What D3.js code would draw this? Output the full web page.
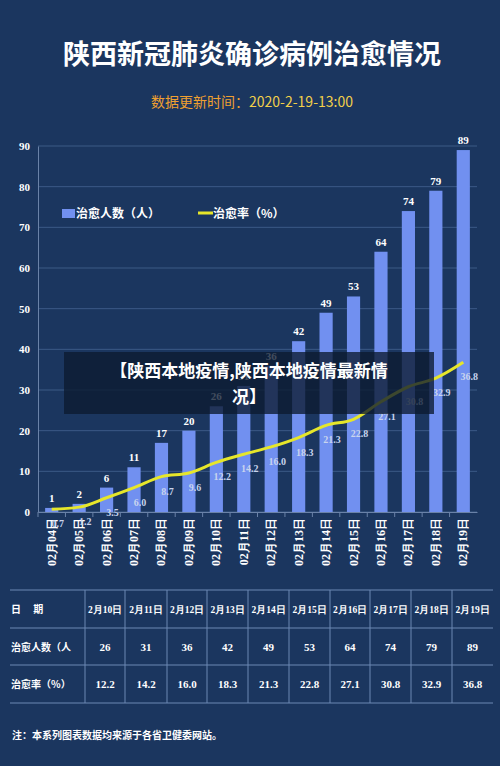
<!DOCTYPE html>
<html><head><meta charset="utf-8">
<script src="https://cdn.jsdelivr.net/npm/d3@7"></script>
<style>body{margin:0;background:#1b365f;}svg{display:block;}</style>
</head><body>
<div id="chart"></div>
<script>
var dates = ["02月04日","02月05日","02月06日","02月07日","02月08日","02月09日","02月10日","02月11日","02月12日","02月13日","02月14日","02月15日","02月16日","02月17日","02月18日","02月19日"];
var cured = [1,2,6,11,17,20,26,31,36,42,49,53,64,74,79,89];
var rate = [0.7,1.2,3.5,6.0,8.7,9.6,12.2,14.2,16.0,18.3,21.3,22.8,27.1,30.8,32.9,36.8];
var yTicks = [0,10,20,30,40,50,60,70,80,90];
var tableDates = ["2月10日","2月11日","2月12日","2月13日","2月14日","2月15日","2月16日","2月17日","2月18日","2月19日"];

var W = 500, H = 766;
var svg = d3.select("#chart").append("svg").attr("width", W).attr("height", H);
svg.append("rect").attr("width", W).attr("height", H).attr("fill", "#1b365f");

var serif = "'Liberation Serif', serif";
var sans = "'Noto Sans CJK SC', sans-serif";

// title
svg.append("text").attr("x", 252).attr("y", 64).attr("text-anchor", "middle")
  .attr("font-family", sans).attr("font-weight", "bold").attr("font-size", 27)
  .attr("fill", "#fff").text("陕西新冠肺炎确诊病例治愈情况");
var sub = svg.append("text").attr("x", 252).attr("y", 107).attr("text-anchor", "middle")
  .attr("font-family", sans).attr("font-size", 14);
sub.append("tspan").attr("fill", "#f0a030").text("数据更新时间：");
sub.append("tspan").attr("fill", "#f2d04a").text("2020-2-19-13:00");

var x = d3.scaleBand().domain(dates).range([38, 477]).paddingInner(0.52).paddingOuter(0.26);
var y = d3.scaleLinear().domain([0, 90]).range([512, 146]);

// grid
svg.append("g").selectAll("line").data(yTicks).enter().append("line")
  .attr("x1", 38).attr("x2", 477).attr("y1", d => y(d)).attr("y2", d => y(d))
  .attr("stroke", "#3c5a86").attr("stroke-width", 1);

var yAxis = svg.append("g").attr("transform", "translate(38,0)")
  .call(d3.axisLeft(y).tickValues(yTicks).tickSize(0).tickPadding(8));
yAxis.select(".domain").attr("stroke", "#6a82a8");
yAxis.selectAll("text").attr("fill", "#fff").attr("font-family", serif)
  .attr("font-weight", "bold").attr("font-size", 11);

var xAxis = svg.append("g").attr("transform", "translate(0,512)")
  .call(d3.axisBottom(x).tickSize(0).tickFormat(""));
xAxis.select(".domain").attr("stroke", "#6a82a8");
// rotated date labels below the axis, reading upward
svg.append("g").selectAll("text").data(dates).enter().append("text")
  .attr("transform", d => "translate(" + (x(d) + x.bandwidth() / 2 + 4) + ",518) rotate(-90)")
  .attr("text-anchor", "end").attr("fill", "#fff").attr("font-family", serif)
  .attr("font-weight", "bold").attr("font-size", 12).text(d => d);
// boundary ticks
svg.append("g").selectAll("line").data(dates).enter().append("line")
  .attr("x1", d => x(d) - x.step() * x.paddingInner() / 2)
  .attr("x2", d => x(d) - x.step() * x.paddingInner() / 2)
  .attr("y1", 512).attr("y2", 517).attr("stroke", "#6a82a8");

// bars
svg.append("g").selectAll("rect").data(cured).enter().append("rect")
  .attr("x", (d, i) => x(dates[i])).attr("width", x.bandwidth())
  .attr("y", d => y(d)).attr("height", d => 512 - y(d)).attr("fill", "#7190f0");
svg.append("g").selectAll("text").data(cured).enter().append("text")
  .attr("x", (d, i) => x(dates[i]) + x.bandwidth() / 2).attr("y", d => y(d) - 6)
  .attr("text-anchor", "middle").attr("fill", "#fff").attr("font-family", serif)
  .attr("font-weight", "bold").attr("font-size", 11).text(d => d);

// line
var line = d3.line().x((d, i) => x(dates[i]) + x.bandwidth() / 2).y(d => y(d)).curve(d3.curveMonotoneX);
svg.append("path").datum(rate).attr("d", line).attr("fill", "none")
  .attr("stroke", "#e6e62a").attr("stroke-width", 3);
svg.append("g").selectAll("text").data(rate).enter().append("text")
  .attr("x", (d, i) => x(dates[i]) + x.bandwidth() / 2 + 6).attr("y", d => y(d) + 18)
  .attr("text-anchor", "middle").attr("fill", "#c8d4ee").attr("font-family", serif)
  .attr("font-weight", "bold").attr("font-size", 10).text(d => d.toFixed(1));

// legend
svg.append("rect").attr("x", 62).attr("y", 209).attr("width", 13).attr("height", 9).attr("fill", "#7190f0");
svg.append("text").attr("x", 76).attr("y", 218).attr("fill", "#fff").attr("font-family", sans)
  .attr("font-weight", "bold").attr("font-size", 12).text("治愈人数（人）");
svg.append("line").attr("x1", 198).attr("x2", 213).attr("y1", 213).attr("y2", 213)
  .attr("stroke", "#e6e62a").attr("stroke-width", 3);
svg.append("text").attr("x", 213).attr("y", 218).attr("fill", "#fff").attr("font-family", sans)
  .attr("font-weight", "bold").attr("font-size", 12).text("治愈率（%）");

// overlay caption
svg.append("rect").attr("x", 64).attr("y", 352).attr("width", 370).attr("height", 62)
  .attr("fill", "#0c1a30").attr("opacity", 0.78);
svg.append("text").attr("x", 249).attr("y", 377).attr("text-anchor", "middle").attr("fill", "#fff")
  .attr("font-family", sans).attr("font-weight", "bold").attr("font-size", 17).text("【陕西本地疫情,陕西本地疫情最新情");
svg.append("text").attr("x", 249).attr("y", 403).attr("text-anchor", "middle").attr("fill", "#fff")
  .attr("font-family", sans).attr("font-weight", "bold").attr("font-size", 17).text("况】");

// table
var rowY = [590, 628, 665, 703];
var colX = [85, 125, 167, 207, 248, 289, 330, 370, 411, 452, 493];
var tg = svg.append("g");
tg.selectAll(".h").data(rowY).enter().append("line").attr("x1", 10).attr("x2", 493)
  .attr("y1", d => d).attr("y2", d => d).attr("stroke", "#6d88b4");
tg.selectAll(".v").data(colX.slice(0, 10)).enter().append("line").attr("x1", d => d).attr("x2", d => d)
  .attr("y1", 590).attr("y2", 703).attr("stroke", "#6d88b4");
var rowLabels = ["日　 期", "治愈人数（人", "治愈率（%）"];
tg.selectAll(".rl").data(rowLabels).enter().append("text").attr("x", 11)
  .attr("y", (d, i) => (rowY[i] + rowY[i + 1]) / 2 + 4).attr("fill", "#fff")
  .attr("font-family", sans).attr("font-weight", "bold").attr("font-size", 10).text(d => d);
var rows = [tableDates, cured.slice(6), rate.slice(6).map(d => d.toFixed(1))];
rows.forEach(function(r, ri) {
  tg.selectAll(".c" + ri).data(r).enter().append("text")
    .attr("x", (d, i) => (colX[i] + colX[i + 1]) / 2)
    .attr("y", (rowY[ri] + rowY[ri + 1]) / 2 + 4).attr("text-anchor", "middle")
    .attr("fill", "#fff").attr("font-family", serif).attr("font-weight", "bold")
    .attr("font-size", ri === 0 ? 9.5 : 11).text(d => d);
});
svg.append("text").attr("x", 12).attr("y", 739).attr("fill", "#fff").attr("font-family", sans)
  .attr("font-weight", "bold").attr("font-size", 10).text("注：本系列图表数据均来源于各省卫健委网站。");
</script>
</body></html>
